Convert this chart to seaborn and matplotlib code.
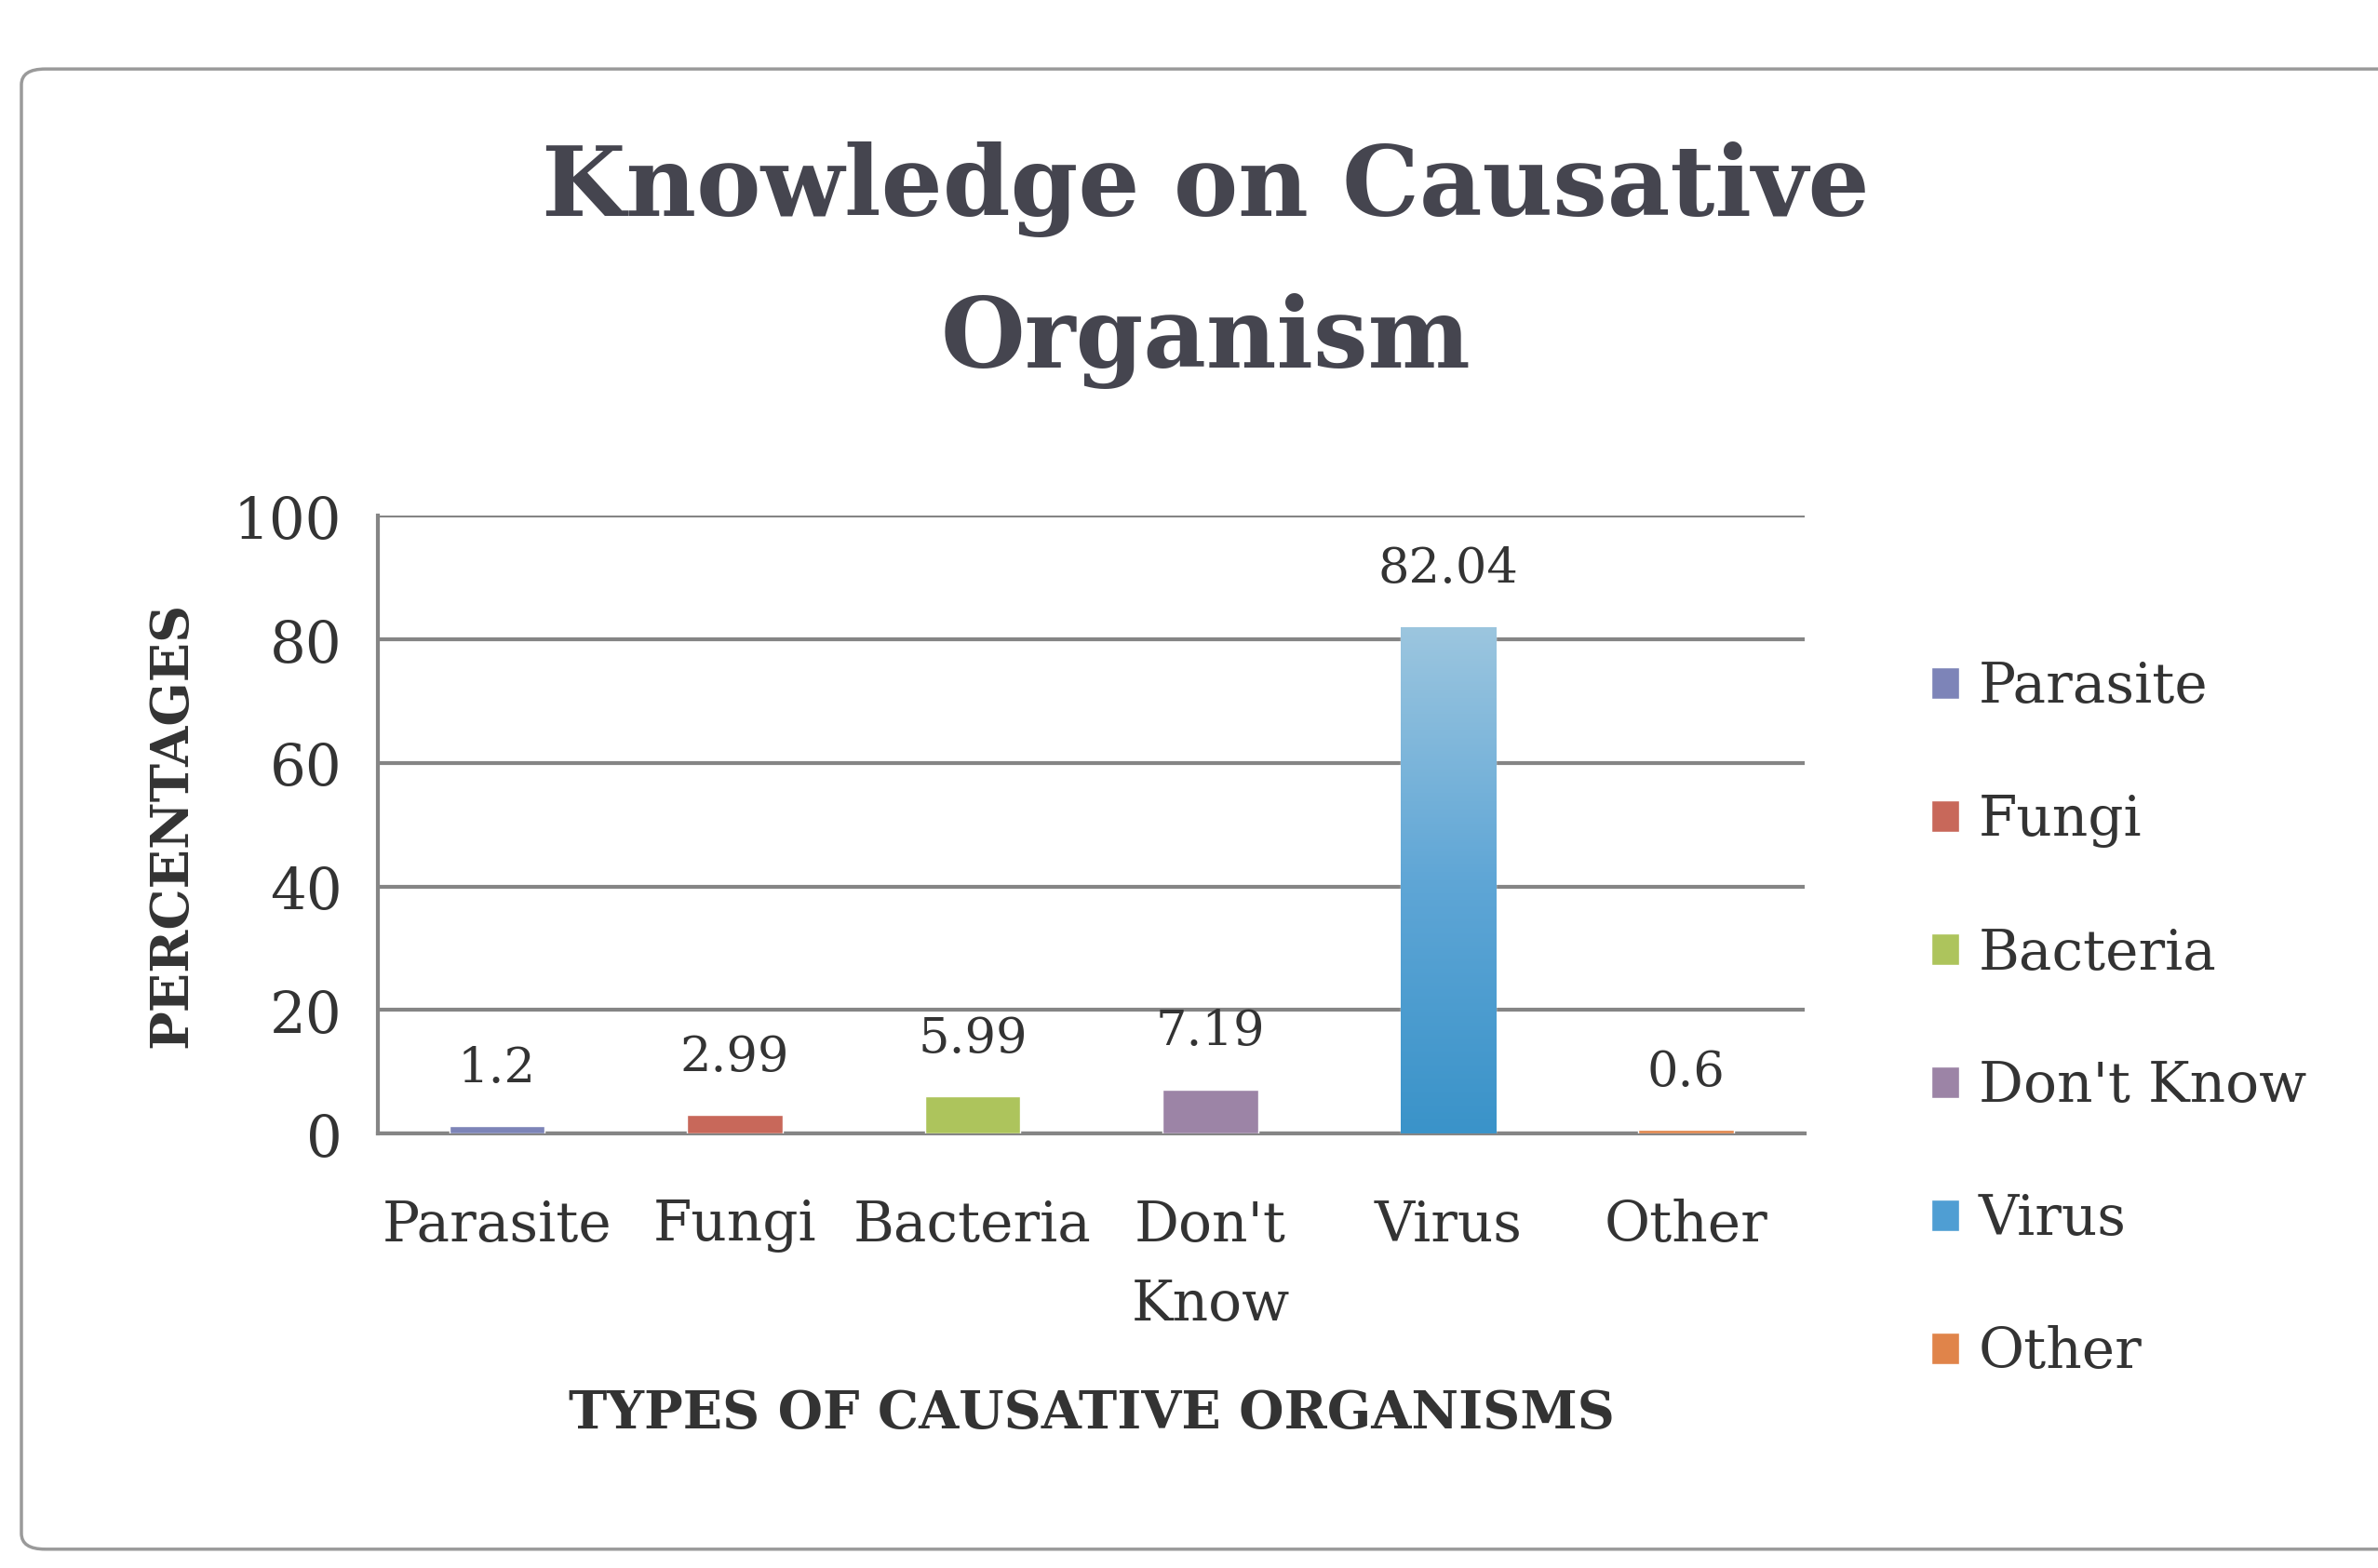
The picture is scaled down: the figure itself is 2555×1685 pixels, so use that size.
import matplotlib
matplotlib.use("Agg")
import matplotlib.pyplot as plt
import seaborn as sns
import pandas as pd
import numpy as np
from matplotlib.patches import FancyBboxPatch
from matplotlib.colors import LinearSegmentedColormap

# data
categories = ["Parasite", "Fungi", "Bacteria", "Don't Know", "Virus", "Other"]
tick_labels = ["Parasite", "Fungi", "Bacteria", "Don't\nKnow", "Virus", "Other"]
percentages = [1.2, 2.99, 5.99, 7.19, 82.04, 0.6]
bar_colors = ["#7d84b8", "#c8685a", "#adc45c", "#9c84a6", "#4f9ed3", "#e0844a"]

sns.set_style("white")
plt.rcParams["font.family"] = ["DejaVu Serif"]

df = pd.DataFrame({"organism": categories, "pct": percentages})

fig = plt.figure(figsize=(25.55, 16.85), dpi=100)
ax = fig.add_axes([0.159, 0.277, 0.600, 0.394])

sns.barplot(data=df, x="organism", y="pct", hue="organism", palette=bar_colors,
            order=categories, hue_order=categories, width=0.40, saturation=1,
            dodge=False, legend=True, ax=ax, zorder=3)

# value labels above each bar
for cont in ax.containers:
    ax.bar_label(cont, labels=[f"{v:g}" for v in cont.datavalues], padding=26,
                 fontsize=38, color="#333333")

ax.set_ylim(0, 100)
ax.set_yticks(range(0, 101, 20))
ax.set_xlim(-0.5, len(categories) - 0.5)
ax.yaxis.grid(True, color="#858585", linewidth=3.0, zorder=0)
ax.set_axisbelow(True)

# the tall bar has a light-to-dark vertical shading in the original
virus_bar = ax.containers[categories.index("Virus")].patches[0]
x0, y0 = virus_bar.get_x(), virus_bar.get_y()
w, h = virus_bar.get_width(), virus_bar.get_height()
shade = LinearSegmentedColormap.from_list("shade", ["#3a93c9", "#5fa6d6", "#9cc6df"])
grad = np.linspace(0, 1, 256).reshape(-1, 1)
img = ax.imshow(grad, cmap=shade, origin="lower", aspect="auto",
                extent=(x0, x0 + w, y0, y0 + h), zorder=4)
img.set_clip_path(virus_bar)
ax.set_xlim(-0.5, len(categories) - 0.5)
ax.set_ylim(0, 100)

# category ticks sit between the bars, labels in the middle
ax.set_xticks([i - 0.5 for i in range(len(categories) + 1)])
ax.set_xticklabels([])
ax.set_xticks(range(len(categories)), minor=True)
ax.set_xticklabels(tick_labels, minor=True, fontsize=43, color="#333333",
                   linespacing=1.6, va="top")
ax.tick_params(axis="x", which="major", length=16, width=2.4, color="#858585", direction="out")
ax.tick_params(axis="x", which="minor", length=0, pad=50)
ax.tick_params(axis="y", length=16, width=2.4, color="#858585", direction="out",
               labelsize=44, labelcolor="#333333", pad=12)

for side in ["top", "right"]:
    ax.spines[side].set_visible(False)
for side in ["left", "bottom"]:
    ax.spines[side].set_color("#858585")
    ax.spines[side].set_linewidth(3.0)

ax.set_xlabel("TYPES OF CAUSATIVE ORGANISMS", fontsize=40, fontweight="bold",
              color="#333333", labelpad=44)
ax.set_ylabel("PERCENTAGES", fontsize=40, fontweight="bold", color="#333333", labelpad=28)

leg = ax.legend(loc="center left", bbox_to_anchor=(1.073, 0.185), frameon=False,
                fontsize=43, labelcolor="#333333", handlelength=0.5, handleheight=0.5,
                handletextpad=0.35, labelspacing=1.42, borderaxespad=0)

fig.suptitle("Knowledge on Causative\nOrganism", x=0.507, y=0.910, va="top", fontsize=75,
             fontweight="bold", color="#45454f", linespacing=1.75)

# outline of the chart area
border = FancyBboxPatch((0.009, 0.012), 1.2, 0.944, boxstyle="round,pad=0,rounding_size=0.01",
                        transform=fig.transFigure, fill=False, edgecolor="#9a9a9a",
                        linewidth=2.5)
fig.patches.append(border)

fig.savefig("out.png", dpi=100)
